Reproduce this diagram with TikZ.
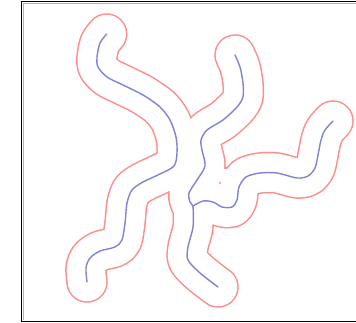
\documentclass[tikz,border=0pt]{standalone}
\usepackage{tikz}
\definecolor{rimred}{RGB}{255,140,140}
\definecolor{skelblue}{RGB}{130,130,215}

% the three limbs of the skeleton, drawn with the style given
\newcommand{\limbs}[1]{%
  \draw[#1] plot[smooth] coordinates {(106.7,34) (100,43) (97,57) (98,67) (107,77) (123,85) (143,95) (160,107) (170,120) (176,137) (177,153) (174,166) (160,174) (143,182) (132,190) (127,203) (125,223) (122,240) (115,247) (100,251) (90,258) (86,268) (87,282)};
  \draw[#1] plot[smooth] coordinates {(235,55) (240,67) (243,83) (243,97) (237,107) (223,120) (207,130) (201,140) (202,150) (205,166) (197,180) (189,193) (190,202) (193,207) (193,227) (188,247) (188,260) (200,273) (218,287)};
  \draw[#1] plot[smooth] coordinates {(193,206) (203,201) (213,202) (222,207) (232,207) (237,200) (239,187) (246,177) (260,173) (277,173) (297,178) (308,176) (315,168) (318,155) (321,140) (325,130) (333,121)};}

\begin{document}
\begin{tikzpicture}[x=1pt, y=-1pt,
  rim/.style={rimred, line width=41.5pt, line cap=round, line join=round},
  hollow/.style={white, line width=38.5pt, line cap=round, line join=round},
  skel/.style={skelblue, line width=1.4pt, line cap=round, line join=round},
  frame/.style={black, line width=1.6pt}
]
  \useasboundingbox (0,0) rectangle (356,323);
  \clip (0,0) rectangle (356,323);
  \fill[white] (0,0) rectangle (356,323);

  \coordinate (fork) at (225,188);
  \coordinate (speck) at (220,183);

  % outline of the buffer, then its inside, then the skeleton
  \limbs{rim}
  \draw[rim] (fork) -- +(0.1,0);
  \limbs{hollow}
  \draw[hollow] (fork) -- +(0.1,0);
  \limbs{skel}
  \fill[rimred] (speck) circle (1.1);

  \draw[frame] (21.5,1.5) rectangle (370,321.5);
  \draw[gray!60, line width=0.8pt] (23.5,3.5) -- (370,3.5);
  \draw[gray!60, line width=0.8pt] (23.5,3.5) -- (23.5,319.5);
\end{tikzpicture}
\end{document}
